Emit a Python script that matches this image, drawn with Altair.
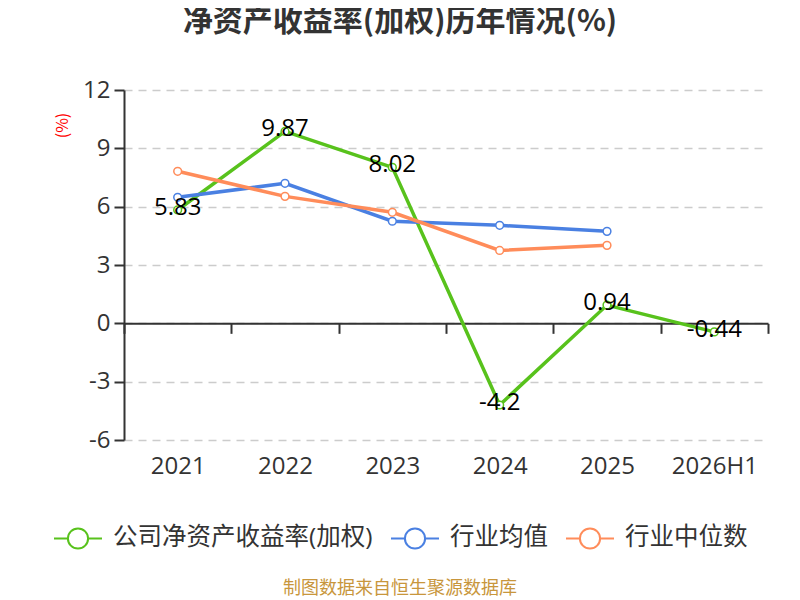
import pandas as pd
import altair as alt

years = ["2021", "2022", "2023", "2024", "2025", "2026H1"]
company = [5.83, 9.87, 8.02, -4.2, 0.94, -0.44]
ind_avg = [6.48, 7.2, 5.25, 5.04, 4.73, None]
ind_med = [7.82, 6.53, 5.71, 3.75, 4.01, None]

series = ["公司净资产收益率(加权)", "行业均值", "行业中位数"]
colors = ["#58C21C", "#4A80E2", "#FF8C5A"]
y_ticks = [-6, -3, 0, 3, 6, 9, 12]

rows = []
for name, vals in zip(series, [company, ind_avg, ind_med]):
    for yr, v in zip(years, vals):
        if v is not None:
            rows.append({"year": yr, "value": v, "series": name, "label": str(v)})
df = pd.DataFrame(rows)

W, H = 644, 350
ymin, ymax = y_ticks[0], y_ticks[-1]
zero_offset = -H * (0 - ymin) / (ymax - ymin)  # x axis sits on the zero line

num_font = "Open Sans, Noto Sans CJK SC"
cjk_font = "Noto Sans CJK SC"

# line with an open circle in the middle, like the reference legend
legend_symbol = (
    "M-1,0L-0.42,0M0.42,0L1,0"
    "M-0.42,0A0.42,0.42,0,1,1,0.42,0A0.42,0.42,0,1,1,-0.42,0"
)

x_enc = alt.X(
    "year:N",
    sort=years,
    title=None,
    scale=alt.Scale(type="band", paddingInner=0, paddingOuter=0),
    axis=alt.Axis(
        offset=zero_offset,
        domainColor="#333333",
        domainWidth=2,
        tickColor="#333333",
        tickWidth=2,
        tickSize=10,
        tickBand="extent",
        labelPadding=121,
        labelFontSize=24,
        labelColor="#333333",
        labelFont=num_font,
        labelAngle=0,
        grid=False,
    ),
)
y_enc = alt.Y(
    "value:Q",
    title="(%)",
    scale=alt.Scale(domain=[ymin, ymax], nice=False, zero=False),
    axis=alt.Axis(
        values=y_ticks,
        labelExpr="replace(datum.label, '−', '-')",
        domainColor="#333333",
        domainWidth=2,
        tickColor="#333333",
        tickWidth=2,
        tickSize=10,
        labelFontSize=24,
        labelColor="#333333",
        labelFont=num_font,
        labelPadding=4,
        grid=True,
        gridColor="#cccccc",
        gridDash=[8, 6],
        gridWidth=1.5,
        titleColor="#ff0000",
        titleFont=cjk_font,
        titleFontSize=16,
        titleFontWeight="normal",
        titleAngle=270,
        titleX=-62,
        titleY=35,
        titleAlign="center",
        titleBaseline="middle",
    ),
)
color_enc = alt.Color(
    "series:N",
    sort=series,
    scale=alt.Scale(domain=series, range=colors),
    legend=alt.Legend(
        title=None,
        orient="none",
        direction="horizontal",
        columns=3,
        legendX=-71,
        legendY=423,
        symbolType=legend_symbol,
        symbolSize=2304,
        symbolStrokeWidth=2,
        symbolFillColor="white",
        labelFontSize=24.5,
        labelFont=num_font,
        labelColor="#333333",
        labelOffset=10,
        labelLimit=400,
        columnPadding=14,
        padding=0,
    ),
)

base = alt.Chart(df).encode(x=x_enc, y=y_enc, color=color_enc)

lines = base.mark_line(strokeWidth=3.5)
points = base.mark_point(filled=False, fill="white", opacity=1, size=60, strokeWidth=1.5)
labels = (
    alt.Chart(df)
    .transform_filter(alt.datum.series == series[0])
    .mark_text(fontSize=24, font=num_font, color="#000000", baseline="middle", dy=-2)
    .encode(
        x=alt.X("year:N", sort=years),
        y=alt.Y("value:Q"),
        text="label:N",
    )
)
source = (
    alt.Chart(pd.DataFrame({"t": ["制图数据来自恒生聚源数据库"]}))
    .mark_text(fontSize=18, font=cjk_font, color="#C8963C", baseline="middle")
    .encode(x=alt.value(276), y=alt.value(499), text="t:N")
)

chart = (
    alt.layer(lines, points, labels, source)
    .properties(
        width=W,
        height=H,
        autosize=alt.AutoSizeParams(type="none"),
        padding={"left": 116, "top": 82, "right": 24, "bottom": 160},
        title=alt.TitleParams(
            "净资产收益率(加权)历年情况(%)",
            font=cjk_font,
            fontSize=30,
            fontWeight="bold",
            color="#333333",
            anchor="middle",
            dx=-46,
            offset=41,
        ),
    )
    .configure_view(stroke=None)
)

chart.save("out.html", embed_options={"renderer": "svg", "actions": False})
